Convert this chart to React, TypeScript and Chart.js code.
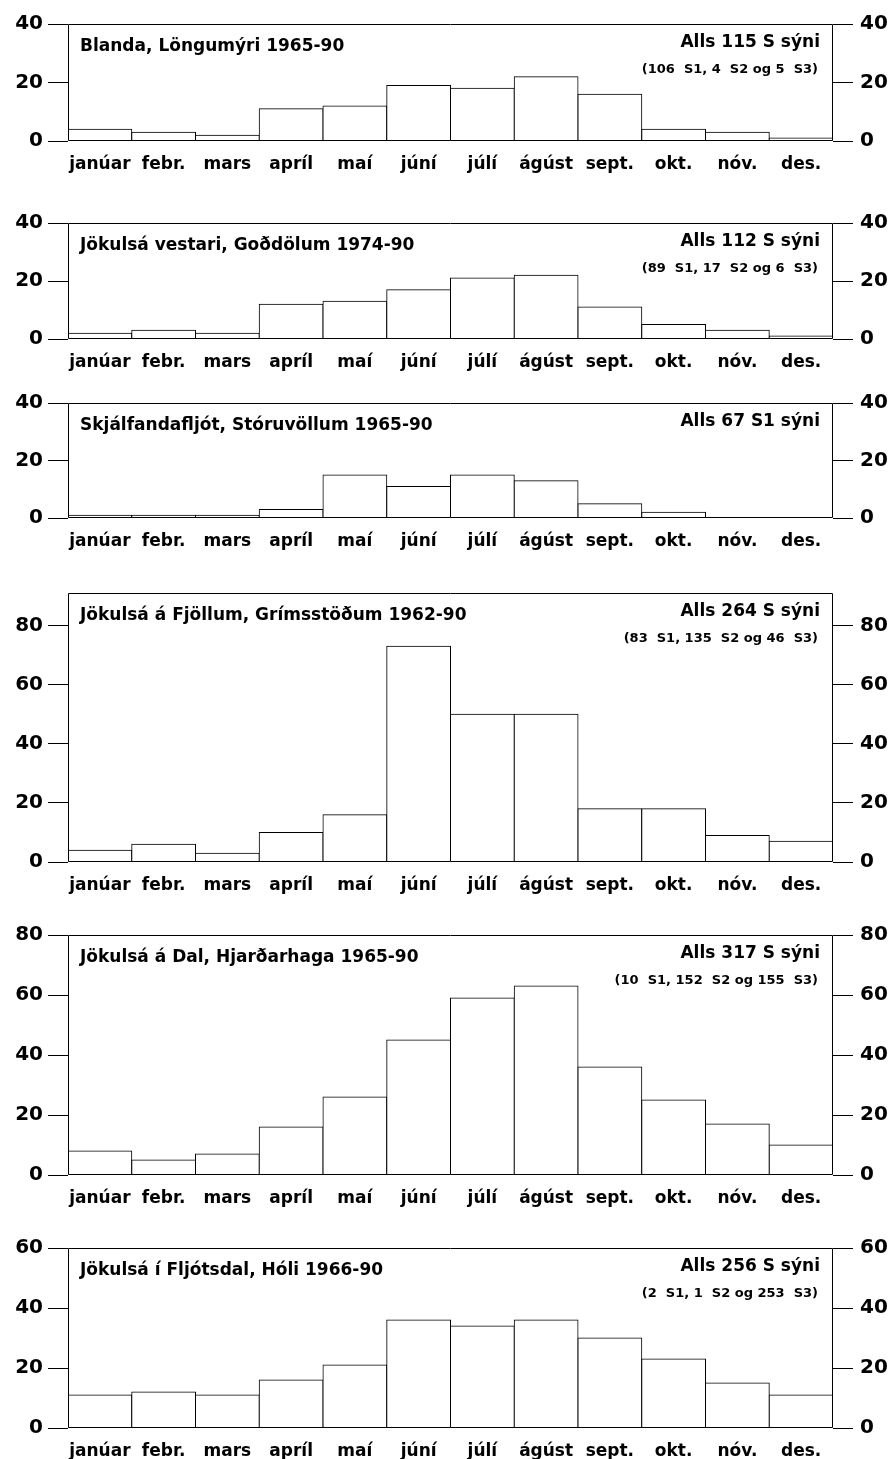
import React, { useEffect, useRef } from "react";
import { Chart, registerables } from "chart.js";

Chart.register(...registerables);

// ---------- data ----------
const months = ["janúar", "febr.", "mars", "apríl", "maí", "júní", "júlí", "ágúst", "sept.", "okt.", "nóv.", "des."];

const blanda = [4, 3, 2, 11, 12, 19, 18, 22, 16, 4, 3, 1];
const jokulsaVestari = [2, 3, 2, 12, 13, 17, 21, 22, 11, 5, 3, 1];
const skjalfandafljot = [1, 1, 1, 3, 15, 11, 15, 13, 5, 2, 0, 0];
const jokulsaFjollum = [4, 6, 3, 10, 16, 73, 50, 50, 18, 18, 9, 7];
const jokulsaDal = [8, 5, 7, 16, 26, 45, 59, 63, 36, 25, 17, 10];
const jokulsaFljotsdal = [11, 12, 11, 16, 21, 36, 34, 36, 30, 23, 15, 11];

const titles = [
  "Blanda, Löngumýri 1965-90",
  "Jökulsá vestari, Goðdölum 1974-90",
  "Skjálfandafljót, Stóruvöllum 1965-90",
  "Jökulsá á Fjöllum, Grímsstöðum 1962-90",
  "Jökulsá á Dal, Hjarðarhaga 1965-90",
  "Jökulsá í Fljótsdal, Hóli 1966-90",
];
const totals = [
  "Alls 115 S sýni",
  "Alls 112 S sýni",
  "Alls 67 S1 sýni",
  "Alls 264 S sýni",
  "Alls 317 S sýni",
  "Alls 256 S sýni",
];
const breakdowns = [
  "(106  S1, 4  S2 og 5  S3)",
  "(89  S1, 17  S2 og 6  S3)",
  "",
  "(83  S1, 135  S2 og 46  S3)",
  "(10  S1, 152  S2 og 155  S3)",
  "(2  S1, 1  S2 og 253  S3)",
];
const ticks40 = [0, 20, 40];
const ticks80 = [0, 20, 40, 60, 80];
const ticks60 = [0, 20, 40, 60];
const axisMax = [40, 40, 40, 91, 80, 60];

const series = [blanda, jokulsaVestari, skjalfandafljot, jokulsaFjollum, jokulsaDal, jokulsaFljotsdal];
const tickSets = [ticks40, ticks40, ticks40, ticks80, ticks80, ticks60];

// ---------- layout ----------
const PAGE_W = 895;
const PAGE_H = 1459;
const PAD_TOP = 15;
const X_AXIS_H = 40;
const LEFT_W = 68;
const RIGHT_W = PAGE_W - 833;
const plotTops = [20, 219, 399, 589, 931, 1244];
const plotHeights = [121, 120, 119, 273, 244, 184];

const FONT = "'DejaVu Sans', 'Liberation Sans', Arial, sans-serif";

const framePlugin = {
  id: "frameAndText",
  afterDraw(chart: any, _args: any, opts: any) {
    const { ctx, chartArea } = chart;
    const { left, right, top, bottom } = chartArea;
    ctx.save();
    ctx.strokeStyle = "#000";
    ctx.lineWidth = 1;
    ctx.beginPath();
    const l = Math.round(left) + 0.5;
    const r = Math.round(right) - 0.5;
    const t = Math.round(top) + 0.5;
    const b = Math.round(bottom) - 0.5;
    ctx.moveTo(l, b);
    ctx.lineTo(l, t);
    ctx.lineTo(r, t);
    ctx.lineTo(r, b);
    ctx.lineTo(l, b);
    ctx.stroke();

    ctx.fillStyle = "#000";
    ctx.textBaseline = "alphabetic";
    ctx.font = `bold 17px ${FONT}`;
    ctx.textAlign = "left";
    ctx.fillText(opts.title, left + 12, top + 27);
    ctx.textAlign = "right";
    ctx.fillText(opts.total, right - 13, top + 23);
    if (opts.breakdown) {
      ctx.font = `bold 13px ${FONT}`;
      ctx.fillText(opts.breakdown, right - 15, top + 49);
    }
    ctx.restore();
  },
};

export default function App() {
  const refs = useRef<(HTMLCanvasElement | null)[]>([]);

  useEffect(() => {
    const charts: Chart[] = [];
    series.forEach((values, i) => {
      const canvas = refs.current[i];
      if (!canvas) return;
      const tickVals = tickSets[i];
      const yCommon = (position: "left" | "right", width: number, padding: number) => ({
        type: "linear" as const,
        position,
        min: 0,
        max: axisMax[i],
        afterBuildTicks: (scale: any) => {
          scale.ticks = tickVals.map((v) => ({ value: v }));
        },
        afterFit: (scale: any) => {
          scale.width = width;
        },
        grid: {
          drawOnChartArea: false,
          drawTicks: true,
          tickLength: 20,
          color: "#000",
          lineWidth: 1,
        },
        border: { display: false },
        ticks: {
          color: "#000",
          padding,
          font: { family: FONT, size: 20, weight: "bold" as const },
        },
      });
      const chart = new Chart(canvas, {
        type: "bar",
        data: {
          labels: months,
          datasets: [
            {
              data: values,
              backgroundColor: "#fff",
              borderColor: "#000",
              borderWidth: 1,
              borderSkipped: "start",
              inflateAmount: 0.5,
              categoryPercentage: 1,
              barPercentage: 1,
            } as any,
          ],
        },
        options: {
          animation: false,
          responsive: false,
          maintainAspectRatio: false,
          devicePixelRatio: 1,
          events: [],
          layout: { padding: { top: PAD_TOP, left: 0, right: 0, bottom: 0 } },
          plugins: {
            legend: { display: false },
            title: { display: false },
            tooltip: { enabled: false },
            frameAndText: { title: titles[i], total: totals[i], breakdown: breakdowns[i] },
          } as any,
          scales: {
            x: {
              type: "category",
              afterFit: (scale: any) => {
                scale.height = X_AXIS_H;
              },
              grid: { display: false, drawTicks: false },
              border: { display: false },
              ticks: {
                color: "#000",
                padding: 13,
                maxRotation: 0,
                autoSkip: false,
                font: { family: FONT, size: 17, weight: "bold" },
              },
            },
            y: yCommon("left", LEFT_W, 5),
            y2: yCommon("right", RIGHT_W, 7),
          },
        },
        plugins: [framePlugin],
      });
      charts.push(chart);
    });
    return () => charts.forEach((c) => c.destroy());
  }, []);

  return (
    <div
      style={{
        position: "absolute",
        left: 0,
        top: 0,
        width: PAGE_W,
        height: PAGE_H,
        overflow: "hidden",
        background: "#fff",
      }}
    >
      {series.map((_, i) => {
        const h = PAD_TOP + plotHeights[i] + X_AXIS_H;
        return (
          <canvas
            key={i}
            ref={(el) => {
              refs.current[i] = el;
            }}
            width={PAGE_W}
            height={h}
            style={{
              position: "absolute",
              left: 0,
              top: plotTops[i] - PAD_TOP,
              width: PAGE_W,
              height: h,
              display: "block",
            }}
          />
        );
      })}
    </div>
  );
}
